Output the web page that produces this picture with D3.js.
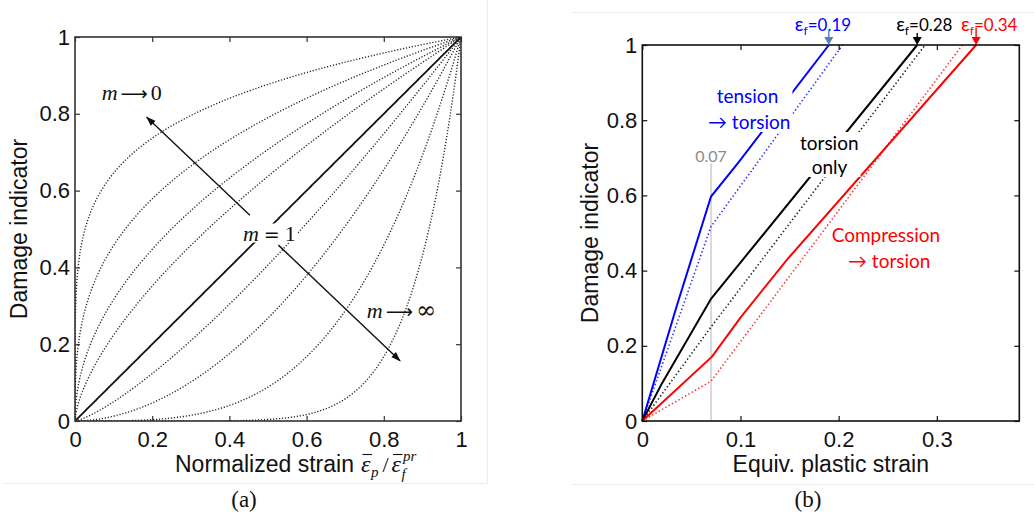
<!DOCTYPE html>
<html>
<head>
<meta charset="utf-8">
<script src="https://cdn.jsdelivr.net/npm/d3@7"></script>
<style>
  body { margin: 0; background: #fff; }
  svg { display: block; }
</style>
</head>
<body>
<svg id="fig" width="1034" height="518"></svg>
<script>
// ---------- Panel (a): D = (eps_p / eps_f)^m for several exponents m ----------
const normTicks = [0, 0.2, 0.4, 0.6, 0.8, 1];
const normTickLabels = ["0", "0.2", "0.4", "0.6", "0.8", "1"];
const exponents = [0.19, 0.34, 0.5, 0.65, 1.3, 1.9, 3.5, 8];
const linearExponent = 1;

// ---------- Panel (b): damage accumulation for three loading paths ----------
const strainTicks = [0, 0.1, 0.2, 0.3];
const strainTickLabels = ["0", "0.1", "0.2", "0.3"];
const damageTicks = [0, 0.2, 0.4, 0.6, 0.8, 1];
const damageTickLabels = ["0", "0.2", "0.4", "0.6", "0.8", "1"];
const switchStrain = 0.07;
const switchMarkTop = 0.685;
const failureStrains = [0.19, 0.28, 0.34];           // tension->torsion, torsion only, compression->torsion
const tensionSolid = [[0, 0], [0.035, 0.305], [0.07, 0.597], [0.098, 0.688], [0.19, 1]];
const tensionDotted = [[0, 0], [0.07, 0.517], [0.204, 1]];
const torsionSolid = [[0, 0], [0.02, 0.1], [0.07, 0.325], [0.28, 1]];
const torsionDotted = [[0, 0], [0.07, 0.25], [0.288, 1]];
const compressionSolid = [[0, 0], [0.071, 0.171], [0.1, 0.275], [0.147, 0.428], [0.34, 1]];
const compressionDotted = [[0, 0], [0.07, 0.106], [0.326, 1]];

const svg = d3.select("#fig");
const SANS = "'Liberation Sans', Arial, sans-serif";
const SERIF = "'Liberation Serif', 'Times New Roman', serif";
const LABEL = "Lato, 'Open Sans', sans-serif";

// faint panel separators
svg.append("path").attr("d", "M3,483.5H487.5V0").attr("fill", "none").attr("stroke", "#ececec").attr("stroke-width", 1);
svg.append("path").attr("d", "M572,12.5H1034M572,484.5H1034").attr("fill", "none").attr("stroke", "#ececec").attr("stroke-width", 1);

function frameAxes(g, x, y, xt, xl, yt, yl, color) {
  const [x0, x1] = x.range(), [y0, y1] = y.range();
  const bottom = g.append("g").attr("transform", `translate(0,${y0})`)
    .call(d3.axisBottom(x).tickValues(xt).tickFormat((d, i) => xl[i]).tickSize(-5).tickPadding(10));
  const top = g.append("g").attr("transform", `translate(0,${y1})`)
    .call(d3.axisTop(x).tickValues(xt).tickFormat("").tickSize(-5));
  const left = g.append("g").attr("transform", `translate(${x0},0)`)
    .call(d3.axisLeft(y).tickValues(yt).tickFormat((d, i) => yl[i]).tickSize(-5).tickPadding(5));
  const right = g.append("g").attr("transform", `translate(${x1},0)`)
    .call(d3.axisRight(y).tickValues(yt).tickFormat("").tickSize(-5));
  [bottom, top, left, right].forEach(a => {
    a.select(".domain").remove();
    a.selectAll(".tick line").attr("stroke", color).attr("stroke-width", 1.2);
    a.selectAll("text").attr("font-family", SANS).attr("font-size", 22).attr("fill", "#111");
  });
  g.append("rect").attr("x", x0).attr("y", y1).attr("width", x1 - x0).attr("height", y0 - y1)
    .attr("fill", "none").attr("stroke", color).attr("stroke-width", 1.6);
}

// ================= Panel (a) =================
const xa = d3.scaleLinear([0, 1], [75, 461]);
const ya = d3.scaleLinear([0, 1], [421, 37]);
const ga = svg.append("g");
ga.append("clipPath").attr("id", "clipA").append("rect")
  .attr("x", 75).attr("y", 37).attr("width", 386).attr("height", 384);

const strainSamples = d3.range(0, 0.02, 0.00005).concat(d3.range(0.02, 1.0001, 0.002));
const curve = m => d3.line().x(d => xa(d)).y(d => ya(Math.pow(d, m)))(strainSamples);

const curvesA = ga.append("g").attr("clip-path", "url(#clipA)");
curvesA.selectAll("path.m").data(exponents).join("path")
  .attr("class", "m").attr("d", curve)
  .attr("fill", "none").attr("stroke", "#222").attr("stroke-width", 1.35)
  .attr("stroke-dasharray", "1.2,1.8");
curvesA.append("path").attr("d", curve(linearExponent))
  .attr("fill", "none").attr("stroke", "#111").attr("stroke-width", 1.8);

// arrows showing the trend of m
const defs = svg.append("defs");
defs.append("marker").attr("id", "headA").attr("viewBox", "0 0 10 10")
  .attr("refX", 9).attr("refY", 5).attr("markerWidth", 10).attr("markerHeight", 10)
  .attr("markerUnits", "userSpaceOnUse").attr("orient", "auto")
  .append("path").attr("d", "M0,1.5L10,5L0,8.5Z").attr("fill", "#111");

const trend = [
  { from: [0.453, 0.536], to: [0.186, 0.791] },
  { from: [0.527, 0.458], to: [0.842, 0.157] }
];
ga.selectAll("line.trend").data(trend).join("line").attr("class", "trend")
  .attr("x1", d => xa(d.from[0])).attr("y1", d => ya(d.from[1]))
  .attr("x2", d => xa(d.to[0])).attr("y2", d => ya(d.to[1]))
  .attr("stroke", "#111").attr("stroke-width", 1.4).attr("marker-end", "url(#headA)");

// "m -> value" labels in TeX-like style
function mathLabel(g, x, y, op, value) {
  const isEq = op === "=";
  const t = g.append("text").attr("x", x).attr("y", y)
    .attr("font-family", SERIF).attr("font-size", 22).attr("fill", "#111");
  t.append("tspan").attr("font-style", "italic").text("m");
  t.append("tspan").attr("dx", isEq ? 5 : 3).attr("font-family", "'DejaVu Sans', sans-serif")
    .attr("font-size", isEq ? 19 : 19).text(op);
  t.append("tspan").attr("dx", isEq ? 5 : 3).attr("font-family", value === "\u221E" ? "'DejaVu Serif', serif" : SERIF)
    .attr("font-size", value === "\u221E" ? 24 : 22).text(value);
  return t;
}
mathLabel(ga, xa(0.069), 100, "\u27F6", "0");
const mOne = mathLabel(ga, xa(0.435), 240.5, "=", "1");
const bb = mOne.node().getBBox();
ga.insert("rect", "text").attr("x", bb.x - 2).attr("y", bb.y + 3).attr("width", bb.width + 4).attr("height", bb.height - 6).attr("fill", "#fff");
mathLabel(ga, xa(0.756), 318.3, "\u27F6", "\u221E");

frameAxes(ga, xa, ya, normTicks, normTickLabels, normTicks, normTickLabels, "#333");

// axis titles for (a)
ga.append("text").attr("transform", "translate(27,229) rotate(-90)").attr("text-anchor", "middle")
  .attr("font-family", SANS).attr("font-size", 23).attr("fill", "#111").text("Damage indicator");

const titleA = ga.append("text").attr("x", 175).attr("y", 471.7)
  .attr("font-family", SANS).attr("font-size", 23).attr("fill", "#111").text("Normalized strain");
let cx = 175 + titleA.node().getComputedTextLength() + 7;
function put(txt, x, y, size, italic) {
  const t = ga.append("text").attr("x", x).attr("y", y).attr("font-family", SERIF)
    .attr("font-size", size).attr("font-style", italic ? "italic" : "normal").attr("fill", "#111").text(txt);
  return t.node().getComputedTextLength();
}
function bar(x, w) {
  ga.append("line").attr("x1", x + 1.5).attr("x2", x + w + 1.5).attr("y1", 454.5).attr("y2", 454.5)
    .attr("stroke", "#111").attr("stroke-width", 1.1);
}
let w = put("\u03B5", cx, 471.7, 24, true); bar(cx, w); cx += w + 0.5;
w = put("p", cx, 476.5, 15, true); cx += w + 4;
w = put("/", cx, 471.7, 22, false); cx += w + 3;
w = put("\u03B5", cx, 471.7, 24, true); bar(cx, w); cx += w + 0.5;
put("f", cx, 479, 15, true);
put("pr", cx + 1.5, 461, 15, true);

svg.append("text").attr("x", 244).attr("y", 507).attr("text-anchor", "middle")
  .attr("font-family", SERIF).attr("font-size", 23).attr("fill", "#111").text("(a)");

// ================= Panel (b) =================
const xb = d3.scaleLinear([0, 0.384], [642.3, 1019.3]);
const yb = d3.scaleLinear([0, 1], [421, 45]);
const gb = svg.append("g");
const lineB = d3.line().x(d => xb(d[0])).y(d => yb(d[1]));

gb.append("line").attr("x1", xb(switchStrain)).attr("x2", xb(switchStrain))
  .attr("y1", yb(0)).attr("y2", yb(switchMarkTop)).attr("stroke", "#b4b4b4").attr("stroke-width", 1);

const paths = [
  { d: tensionDotted, c: "#2b2bff", dotted: true },
  { d: torsionDotted, c: "#222", dotted: true },
  { d: compressionDotted, c: "#ff3030", dotted: true },
  { d: tensionSolid, c: "#0000ff", dotted: false },
  { d: torsionSolid, c: "#000", dotted: false },
  { d: compressionSolid, c: "#ff0000", dotted: false }
];
gb.selectAll("path.series").data(paths).join("path").attr("class", "series")
  .attr("d", p => lineB(p.d)).attr("fill", "none").attr("stroke", p => p.c)
  .attr("stroke-width", p => p.dotted ? 1.6 : 2)
  .attr("stroke-dasharray", p => p.dotted ? "1.4,2.4" : null);

// text labels with white backing so the lines pass behind them
function block(lines, color) {
  const g = gb.append("g");
  const texts = lines.map(l => g.append("text").attr("x", l.x).attr("y", l.y)
    .attr("font-family", LABEL).attr("font-size", 19).attr("fill", color).text(l.s));
  const boxes = texts.map(t => t.node().getBBox());
  const x0 = d3.min(boxes, b => b.x) - 2, x1 = d3.max(boxes, b => b.x + b.width) + 2;
  const y0 = d3.min(boxes, b => b.y) + 1, y1 = d3.max(boxes, b => b.y + b.height) - 1;
  g.insert("rect", "text").attr("x", x0).attr("y", y0).attr("width", x1 - x0).attr("height", y1 - y0).attr("fill", "#fff");
}
block([{ s: "tension", x: 716.7, y: 103 }, { s: "\u2192 torsion", x: 708, y: 129 }], "#0000ff");
block([{ s: "torsion", x: 800, y: 150 }, { s: "only", x: 811.7, y: 174 }], "#000");
block([{ s: "Compression", x: 831.7, y: 241.5 }, { s: "\u2192 torsion", x: 848, y: 268 }], "#ff0000");

gb.append("text").attr("x", xb(switchStrain)).attr("y", 161.5).attr("text-anchor", "middle")
  .attr("font-family", LABEL).attr("font-size", 16).attr("fill", "#8c8c8c").text("0.07");

frameAxes(gb, xb, yb, strainTicks, strainTickLabels, damageTicks, damageTickLabels, "#111");

// failure-strain callouts at D = 1
const callouts = [
  { v: failureStrains[0], text: "#0000ff", arrow: "#4f81bd", dx: -34, top: 30 },
  { v: failureStrains[1], text: "#000", arrow: "#000", dx: -21, top: 33 },
  { v: failureStrains[2], text: "#ff0000", arrow: "#ff0000", dx: -15, top: 28 }
];
callouts.forEach(c => {
  const t = gb.append("text").attr("x", xb(c.v) + c.dx).attr("y", 31)
    .attr("font-family", LABEL).attr("font-size", 17).attr("fill", c.text);
  t.append("tspan").attr("font-size", 19).text("\u03B5");
  t.append("tspan").attr("font-size", 12).attr("dy", 4).text("f");
  t.append("tspan").attr("dy", -4).text("=" + d3.format(".2f")(c.v));
  const xp = xb(c.v), tip = yb(1);
  gb.append("line").attr("x1", xp).attr("x2", xp).attr("y1", c.top).attr("y2", tip - 6)
    .attr("stroke", c.arrow).attr("stroke-width", 1.4);
  gb.append("path").attr("d", `M${xp - 4.5},${tip - 8}L${xp + 4.5},${tip - 8}L${xp},${tip}Z`).attr("fill", c.arrow);
});

gb.append("text").attr("transform", "translate(598,233) rotate(-90)").attr("text-anchor", "middle")
  .attr("font-family", SANS).attr("font-size", 23).attr("fill", "#111").text("Damage indicator");
gb.append("text").attr("x", (642.3 + 1019.3) / 2).attr("y", 471.7).attr("text-anchor", "middle")
  .attr("font-family", SANS).attr("font-size", 23).attr("fill", "#111").text("Equiv. plastic strain");

svg.append("text").attr("x", 808).attr("y", 507).attr("text-anchor", "middle")
  .attr("font-family", SERIF).attr("font-size", 23).attr("fill", "#111").text("(b)");
</script>
</body>
</html>
